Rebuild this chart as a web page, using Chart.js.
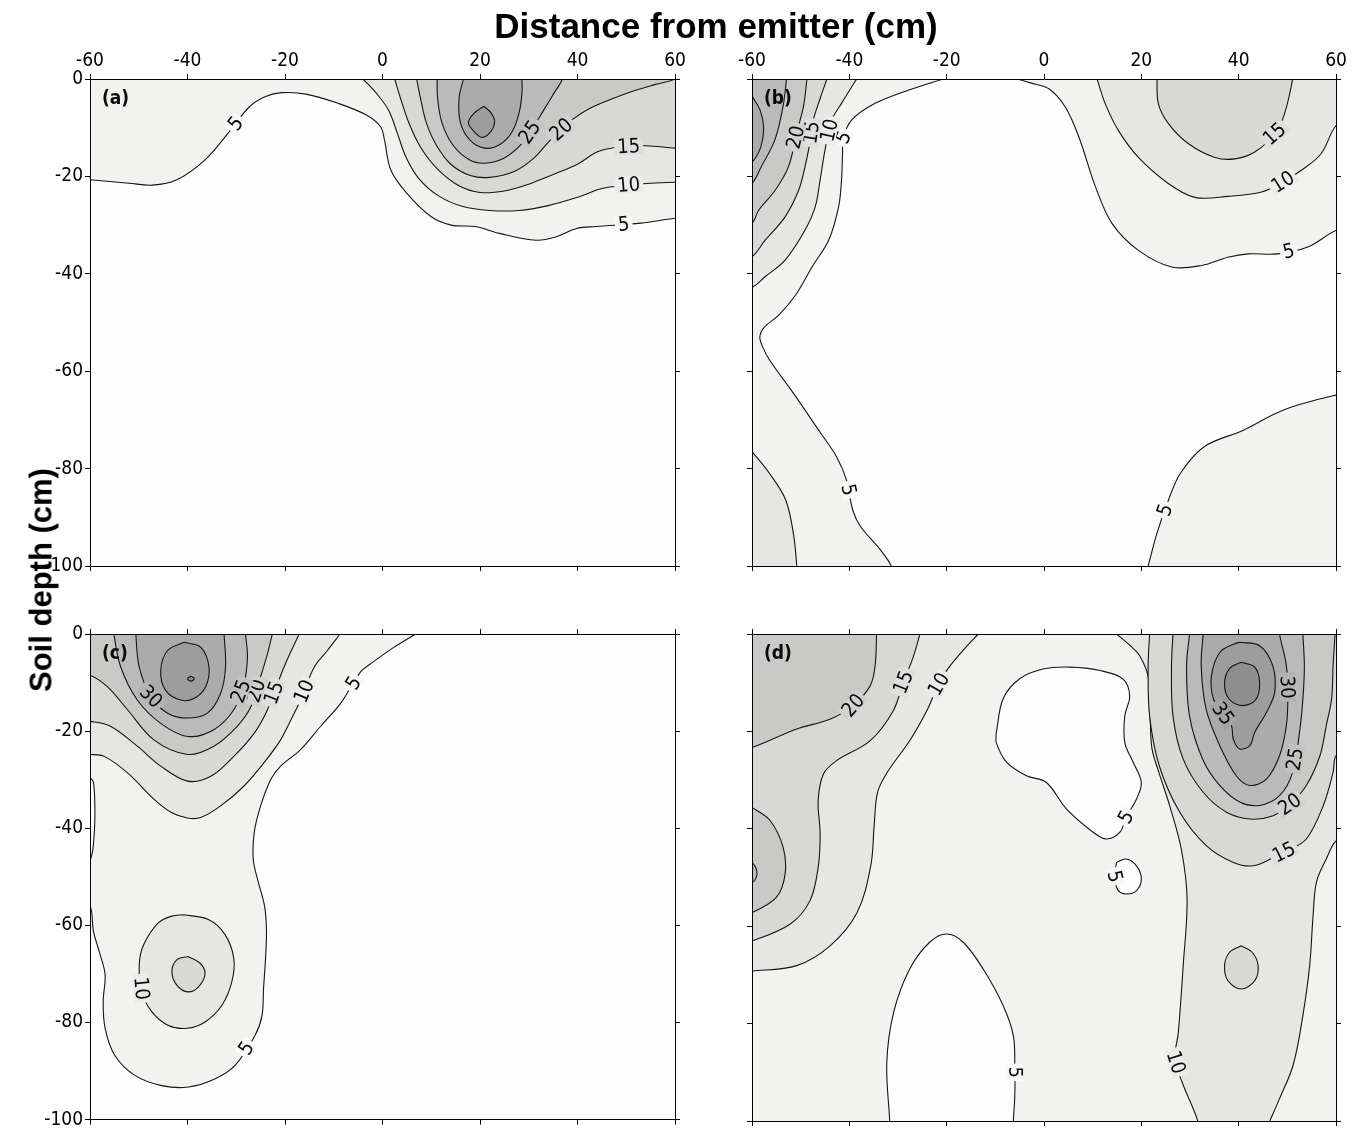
<!DOCTYPE html>
<html lang="en">
<head>
<meta charset="utf-8">
<title>Soil depth contours</title>
<script src="https://cdn.jsdelivr.net/npm/chart.js@4.4.1/dist/chart.umd.min.js"></script>
<style>
  html, body { margin: 0; padding: 0; background: #ffffff; }
  #page { position: relative; width: 1353px; height: 1133px; overflow: hidden; background: #ffffff; }
  #page canvas { position: absolute; }
  #xtitle { position: absolute; left: 716px; top: 8px; transform: translateX(-50%);
            font: bold 35px/1 "Liberation Sans", Arial, sans-serif; white-space: nowrap; color: #000; }
  #ytitle { position: absolute; left: 41px; top: 580px; transform: translate(-50%, -50%) rotate(-90deg);
            font: bold 31px/1 "Liberation Sans", Arial, sans-serif; white-space: nowrap; color: #000; }
</style>
</head>
<body>
<div id="page">
  <canvas id="pa" width="700" height="600" style="left:0;top:0"></canvas>
  <canvas id="pb" width="653" height="600" style="left:700px;top:0"></canvas>
  <canvas id="pc" width="700" height="533" style="left:0;top:600px"></canvas>
  <canvas id="pd" width="653" height="533" style="left:700px;top:600px"></canvas>
  <div id="xtitle">Distance from emitter (cm)</div>
  <div id="ytitle">Soil depth (cm)</div>
</div>
<script>
// Axis ranges and ticks (cm)
const xRange = [-60, 60];
const yRange = [-100, 0];
const tickStep = 20;

// Grey level used above each contour value
const SHADE = { 0: '#fdfdfd', 5: '#f2f2f1', 10: '#e6e6e5', 15: '#d8d8d7', 20: '#c9c9c8',
                25: '#bababa', 30: '#ababab', 35: '#9d9d9d', 40: '#8f8f8f' };

// ---------- Panel (a) contour lines [distance, depth] ----------
const a05 = [[-60,-20.7],[-52,-21.4],[-47.2,-21.8],[-42.2,-20.7],[-36.4,-16.6],[-31.4,-10.8],[-27.3,-5.7],[-24,-3.6],[-20.7,-2.8],[-15.7,-3.1],[-9.1,-5],[-3.3,-7.4],[-0.4,-9.8],[0.4,-12.5],[1.7,-18.7],[5,-23.5],[10,-28.3],[14.1,-30],[19,-30.3],[24,-31.7],[31.5,-33.1],[35.6,-32.4],[39.8,-30.7],[43.9,-30.3],[53,-29.6],[60,-28.6]];
const a05Edge = [[62,-28.6],[62,2],[-62,2],[-62,-20.7]];
const a10 = [[-4,0],[-1.2,-3],[1.3,-6.5],[3,-11],[4.8,-16],[7.5,-20.5],[11.5,-24],[16.5,-26.2],[22,-27],[28,-27],[34,-26],[40,-24.3],[45,-22.5],[50,-21.8],[55,-21.4],[60,-21.2]];
const a10Edge = [[62,-21.2],[62,2],[-4,2]];
const a15 = [[2.5,0],[3.7,-4],[5.4,-9],[7.8,-14],[11.3,-18.5],[15.5,-21.8],[20,-23.3],[25,-23],[30,-21.6],[35,-19.6],[40,-17.5],[44,-15],[48,-14],[54,-13.7],[60,-14.2]];
const a15Edge = [[62,-14.2],[62,2],[2.5,2]];
const a20 = [[7,0],[7.8,-4],[9,-9],[11,-13.5],[14,-17.5],[18,-19.8],[22,-20.2],[27,-19],[31,-16.3],[34,-13],[36.5,-10.5],[39,-8.3],[42,-6.3],[46,-4.5],[51,-2.6],[56,-1.1],[60,0]];
const a20Edge = [[62,2],[7,2]];
const a25 = [[11.2,0],[11.3,-4],[12.2,-9],[14.4,-13.5],[17.8,-16.6],[21,-17.3],[25,-16.2],[28.3,-13.6],[30.5,-10.5],[33,-6.5],[35.3,-2.7],[36.9,0]];
const a25Edge = [[36.9,2],[11.2,2]];
const a30 = [[16.6,0],[15.7,-4],[16,-9],[18,-12.6],[21,-14.2],[24,-13.5],[26.5,-11],[28,-7],[28.6,-3],[28.6,0]];
const a30Edge = [[28.6,2],[16.6,2]];
const a35 = [[20.8,-5.6],[22.3,-7],[23,-8.8],[22.2,-10.8],[20.4,-12],[18.7,-10.7],[17.6,-9],[18.8,-7],[20.8,-5.6]];

// ---------- Panel (b) ----------
const b05L = [[-20.7,0],[-27.9,-2.3],[-34.7,-5],[-39.5,-8.4],[-41.2,-12],[-41.4,-15.3],[-41.6,-20.7],[-42.2,-26.2],[-44.2,-33],[-47.6,-38.5],[-51,-44.3],[-54.5,-48.5],[-57.5,-51],[-58.4,-53],[-57.8,-55],[-56.4,-57.7],[-51.5,-64.5],[-45.9,-72.7],[-42.6,-77.6],[-40.6,-82.3],[-39.3,-88.5],[-37.7,-91.9],[-33.6,-96.7],[-31.4,-100]];
const b05LEdge = [[-31.4,-102],[-62,-102],[-62,2],[-20.7,2]];
const b10BL = [[-60,-76.5],[-56.4,-81],[-53.1,-86.4],[-51.5,-93.3],[-50.8,-100]];
const b10BLEdge = [[-50.8,-102],[-62,-102],[-62,-76.5]];
const b10L = [[-38.5,0],[-41.6,-5],[-43.6,-8.4],[-45,-14.6],[-46,-20.7],[-47,-26.2],[-49.1,-31],[-53.2,-37.2],[-57.3,-40.6],[-60,-42.8]];
const b10LEdge = [[-62,-42.8],[-62,2],[-38.5,2]];
const b15L = [[-44.6,0],[-46,-4],[-47.4,-8.4],[-48,-12.5],[-49.1,-18],[-50.4,-22.8],[-53.2,-28.3],[-57.3,-33.1],[-60,-36.5]];
const b15LEdge = [[-62,-36.5],[-62,2],[-44.6,2]];
const b20L = [[-48.7,0],[-49.4,-5.5],[-50.8,-11],[-52.5,-18],[-55.2,-22.8],[-58.6,-26.9],[-60,-29.6]];
const b20LEdge = [[-62,-29.6],[-62,2],[-48.7,2]];
const b25L = [[-52.9,0],[-53.6,-5.5],[-55.3,-12.5],[-58.1,-18],[-60,-21.4]];
const b25LEdge = [[-62,-21.4],[-62,2],[-52.9,2]];
const b30L = [[-60,-3.5],[-58.3,-6.5],[-57.6,-10],[-58.2,-14],[-60,-17]];
const b30LEdge = [[-62,-17],[-62,-3.5]];
const b05R = [[-5.5,0],[-2.8,-0.8],[1,-2],[4.4,-5.8],[7.2,-12],[10.6,-22.2],[14,-29.7],[19.4,-35.2],[26.2,-38.6],[32.4,-38.3],[37.8,-36.6],[41.9,-35.9],[48,-35.9],[54.2,-34.5],[60,-31.1]];
const b05REdge = [[62,-31.1],[62,2],[-5.5,2]];
const b05BR = [[21.4,-100],[23.2,-93.3],[25.6,-86.4],[28,-81],[32.9,-75.5],[41,-72.1],[49.1,-68],[60,-64.9]];
const b05BREdge = [[62,-64.9],[62,-102],[21.4,-102]];
const b10R = [[10.9,0],[12.6,-5.1],[15.3,-10.6],[19.4,-16.1],[25.6,-21.5],[31,-24.3],[37.8,-24.1],[44.7,-23.2],[49,-21.2],[52.8,-18.8],[56.9,-15.4],[60,-9.6]];
const b10REdge = [[62,-9.6],[62,2],[10.9,2]];
const b15R = [[23.2,0],[23.5,-5.1],[25.6,-9.2],[29.7,-13.3],[35.1,-16.1],[39.2,-16.4],[43.3,-15],[47.4,-11.3],[49.4,-7.2],[51.1,0]];
const b15REdge = [[51.1,2],[23.2,2]];

// ---------- Panel (c) ----------
const c05 = [[6.8,0],[2.4,-2.7],[-2.4,-6.1],[-4.5,-7.8],[-8.6,-14.3],[-12.7,-19],[-16.8,-23.8],[-20.9,-27.2],[-22.9,-29.9],[-25,-35.4],[-26.3,-40.8],[-26.5,-46.5],[-25.5,-51],[-24.2,-56],[-23.8,-61],[-24,-67],[-24.4,-73],[-24.7,-78.5],[-26.1,-82.6],[-30.2,-88.8],[-34.3,-91.6],[-39.8,-93.3],[-45.3,-93],[-50.8,-90.9],[-54.9,-86.8],[-56.9,-81.2],[-57.3,-75.7],[-56.9,-70.2],[-57.9,-66.1],[-59.3,-61.2],[-60,-56]];
const c05Edge = [[-62,-56],[-62,2],[6.8,2]];
const c05s = [[-60,-29.5],[-59.3,-30.5],[-59,-36],[-59.2,-42],[-60,-46.5]];
const c05sEdge = [[-62,-46.5],[-62,-29.5]];
const c10 = [[-8.7,0],[-11.3,-3.4],[-14,-6.8],[-16.8,-13.6],[-18.8,-17.7],[-20.9,-21.8],[-24.3,-26.5],[-28.4,-31.3],[-33.2,-35.4],[-37.3,-37.8],[-40,-37.9],[-43.4,-36.7],[-46.9,-34],[-52.3,-28.6],[-57.1,-25.2],[-60,-24.8]];
const c10Edge = [[-62,-24.8],[-62,2],[-8.7,2]];
const c15 = [[-17.1,0],[-20.2,-6.8],[-23.6,-15.6],[-26.3,-20.4],[-30.5,-25.2],[-35.2,-29.3],[-40,-30.3],[-45.5,-27.2],[-50.3,-23.1],[-55.8,-19],[-60,-18]];
const c15Edge = [[-62,-18],[-62,2],[-17.1,2]];
const c20 = [[-22.6,0],[-23.6,-4.1],[-25,-8.8],[-27,-15],[-29.8,-19],[-34.6,-23.1],[-40,-24.8],[-46.9,-21.8],[-52.3,-15.6],[-56.4,-10.9],[-60,-8.5]];
const c20Edge = [[-62,-8.5],[-62,2],[-22.6,2]];
const c25 = [[-28.1,0],[-27.7,-4.8],[-28.4,-10.2],[-30.5,-15.6],[-34.6,-19.7],[-40,-21.1],[-45.5,-18.4],[-50.3,-13.6],[-53.7,-6.8],[-55.1,0]];
const c25Edge = [[-55.1,2],[-28.1,2]];
const c30 = [[-32.5,0],[-32.2,-6.8],[-33.2,-12.2],[-35.9,-16.3],[-40,-17.3],[-44.1,-16.3],[-47.5,-12.9],[-49.9,-6.8],[-50.6,0]];
const c30Edge = [[-50.6,2],[-32.5,2]];
const c35 = [[-40.7,-1.7],[-37.3,-2.7],[-35.6,-6.8],[-36.3,-10.9],[-38.7,-13.3],[-41.4,-13.6],[-44.5,-11.6],[-45.5,-7.5],[-44.1,-3.4],[-40.7,-1.7]];
const c40 = [[-39.3,-8.7],[-38.6,-9.2],[-39.3,-9.7],[-40,-9.2],[-39.3,-8.7]];
const c10b = [[-40.8,-57.8],[-35.7,-58.8],[-32.3,-61.9],[-30.5,-66.8],[-30.9,-71.6],[-32.9,-76.4],[-36.4,-79.9],[-40.1,-81.2],[-43.9,-80.6],[-47.3,-77.8],[-49.4,-73.7],[-49.9,-68.1],[-49,-64],[-46,-59.5],[-43.2,-58.1],[-40.8,-57.8]];
const c15b = [[-39.9,-66.4],[-37.4,-67.8],[-36.4,-69.9],[-37.7,-72.6],[-39.9,-73.7],[-42.2,-72.3],[-43.2,-69.5],[-42.2,-67.1],[-39.9,-66.4]];

// ---------- Panel (d) ----------
const d05blob = [[-9.8,-20.2],[-8.4,-13.3],[-5,-9.2],[-0.2,-7.2],[5.3,-6.8],[11.5,-7.5],[16.2,-9.2],[17.6,-12.7],[16.6,-16.8],[16.6,-22.3],[18.3,-26.3],[20,-30.5],[19,-33.9],[16.9,-37.6],[15.6,-40.7],[12.8,-42.1],[10.1,-40.7],[4.6,-35.9],[0.5,-30.5],[-3.6,-29.1],[-7.7,-26.3],[-9.8,-22.3],[-9.8,-20.2]];
const d05loop = [[14.9,-46.9],[16.9,-46.2],[19,-47.6],[20,-50.3],[19,-52.7],[16.9,-53.4],[15.2,-52.6],[14.5,-49.8],[14.9,-46.9]];
const d05arch = [[-31.7,-100],[-32.3,-88],[-30.9,-77.7],[-27.6,-68.8],[-23.5,-63.3],[-20,-61.6],[-16.6,-63.3],[-12.5,-68.8],[-8.4,-76.3],[-6.3,-82.5],[-6,-88.7],[-6,-94.8],[-6.3,-100]];
const d05archEdge = [[-6.3,-102],[-31.7,-102]];
const d10L = [[-13.5,0],[-16.4,-3.1],[-19.8,-7.2],[-22,-11],[-23.9,-15.4],[-27.4,-21.6],[-32.2,-28.4],[-34.2,-32.5],[-34.9,-39.4],[-35.6,-47.6],[-38.4,-57.2],[-43.9,-64],[-50.8,-68.1],[-60,-69.2]];
const d10LEdge = [[-62,-69.2],[-62,2],[-13.5,2]];
const d15L = [[-25.5,0],[-26.9,-4.8],[-28.9,-9.9],[-31,-15.8],[-35.7,-21.9],[-42.6,-26],[-45.3,-28.7],[-46.4,-34.2],[-46,-41],[-46.4,-47.9],[-48.1,-54.8],[-52.2,-59.6],[-60,-63]];
const d15LEdge = [[-62,-63],[-62,2],[-25.5,2]];
const d20L = [[-34.4,0],[-34.7,-6.5],[-35.7,-10.6],[-39.2,-14.7],[-44,-17.5],[-50.8,-19.5],[-60,-23.3]];
const d20LEdge = [[-62,-23.3],[-62,2],[-34.4,2]];
const d20Lb = [[-60,-35.6],[-56.3,-38.3],[-53.6,-43.8],[-53.2,-49.3],[-55,-54.1],[-60,-57.2]];
const d20LbEdge = [[-62,-57.2],[-62,-35.6]];
const d25Lt = [[-60,-46.9],[-59.2,-48],[-59,-49.5],[-59.4,-50.5],[-60,-51]];
const d25LtEdge = [[-62,-51],[-62,-46.9]];
const d10R = [[14.9,0],[17.5,-2.2],[19.7,-4.5],[21.5,-9.2],[21.8,-16.8],[22.2,-23.6],[23.6,-28.4],[25.8,-35.2],[28.2,-44.1],[29.4,-54.4],[28.6,-68.1],[27.6,-81.8],[26.9,-87.3],[28.4,-92.1],[31.6,-100]];
const d10REdge = [[31.6,-102],[62,-102],[62,2],[14.9,2]];
const d10Rr = [[46.4,-100],[48.4,-95.4],[51.2,-88.5],[53.2,-78.3],[54.6,-68],[55.3,-57.7],[56,-50.9],[58,-46.2],[60,-42.5]];
const d10RrEdge = [[62,-42.5],[62,-102],[46.4,-102]];
const d15R = [[21.7,0],[21.4,-6.5],[21.7,-16.8],[23.7,-27.1],[27.9,-36.6],[33.4,-43.5],[38.9,-46.9],[43,-47.6],[47,-46],[50,-44.5],[53.9,-42.1],[57.4,-35.2],[59.4,-28.4],[60,-25]];
const d15REdge = [[62,-25],[62,2],[21.7,2]];
const d20R = [[26.5,0],[26.2,-6.5],[26.5,-16.8],[28.6,-25.7],[32.7,-32.5],[37.5,-36.6],[42.3,-38],[47.1,-37.3],[50.5,-35],[53.9,-31.1],[56.7,-25],[58,-18.8],[59.1,-13.3],[59.4,-6.5],[59.8,0]];
const d20REdge = [[59.8,2],[26.5,2]];
const d25R = [[29.9,0],[29.3,-6.5],[29.9,-16.8],[32.6,-25.7],[36.1,-31.1],[40.2,-34.5],[44.3,-35.2],[48.4,-33.2],[51.1,-28.4],[52.5,-20.2],[53.2,-13.3],[53.5,-6.5],[53.2,0]];
const d25REdge = [[53.2,2],[29.9,2]];
const d30R = [[32.7,0],[32.3,-6.5],[33.3,-15.4],[36.1,-22.9],[39.5,-29.1],[42.3,-31.1],[45.7,-29.8],[48.4,-25],[49.8,-18.8],[50.1,-13.3],[49.8,-6.5],[48.4,0]];
const d30REdge = [[48.4,2],[32.7,2]];
const d35 = [[40.2,-1.7],[44.3,-2.4],[47,-6.5],[47.4,-12],[45.7,-16.1],[43.3,-20.2],[42.3,-22.9],[40.2,-23.6],[38.9,-21.6],[38.5,-18.8],[36.5,-16],[34.8,-13.3],[34.4,-8.6],[36.1,-3.8],[38.9,-2.1],[40.2,-1.7]];
const d40 = [[40.5,-5.8],[43.3,-6.8],[44.3,-10],[43.5,-13.5],[40.8,-14.7],[38,-13.3],[37.1,-10],[38.2,-7],[40.5,-5.8]];
const d15b = [[40.5,-64],[42.8,-65.4],[44,-68.1],[43.3,-71.2],[40.5,-72.9],[37.8,-71.2],[37.1,-68.1],[38.1,-65.4],[40.5,-64]];

// Each region: contour value, its line, closing points beyond the frame,
// whether the inside is lower than the value, and where the value is written.
const panelA = { letter: '(a)', base: 0, regions: [
  { level: 5,  line: a05, edge: a05Edge, tags: [[-29.2,-9.9],[49.5,-30]] },
  { level: 10, line: a10, edge: a10Edge, tags: [[50.5,-21.8]] },
  { level: 15, line: a15, edge: a15Edge, tags: [[50.5,-13.8]] },
  { level: 20, line: a20, edge: a20Edge, tags: [[36.6,-10.3]] },
  { level: 25, line: a25, edge: a25Edge, tags: [[30.3,-11]] },
  { level: 30, line: a30, edge: a30Edge },
  { level: 35, line: a35 },
]};
const panelB = { letter: '(b)', base: 0, regions: [
  { level: 5,  line: b05L, edge: b05LEdge, tags: [[-41.2,-12],[-40.8,-84.5]] },
  { level: 10, line: b10BL, edge: b10BLEdge },
  { level: 5,  line: b05R, edge: b05REdge, tags: [[50.4,-35.9]] },
  { level: 5,  line: b05BR, edge: b05BREdge, tags: [[24.8,-88.5]] },
  { level: 10, line: b10L, edge: b10LEdge, tags: [[-44.2,-10.5]] },
  { level: 15, line: b15L, edge: b15LEdge, tags: [[-47.8,-11]] },
  { level: 20, line: b20L, edge: b20LEdge, tags: [[-51,-12]] },
  { level: 25, line: b25L, edge: b25LEdge },
  { level: 30, line: b30L, edge: b30LEdge },
  { level: 10, line: b10R, edge: b10REdge, tags: [[49.1,-21.2]] },
  { level: 15, line: b15R, edge: b15REdge, tags: [[47.4,-11.3]] },
]};
const panelC = { letter: '(c)', base: 0, regions: [
  { level: 5,  line: c05, edge: c05Edge, tags: [[-5.8,-10.2],[-27.8,-85.4]] },
  { level: 5,  line: c05s, edge: c05sEdge, low: true },
  { level: 10, line: c10, edge: c10Edge, tags: [[-16.6,-11.6]] },
  { level: 10, line: c10b, tags: [[-49.7,-73]] },
  { level: 15, line: c15b },
  { level: 15, line: c15, edge: c15Edge, tags: [[-22,-12.2]] },
  { level: 20, line: c20, edge: c20Edge, tags: [[-26,-11.7]] },
  { level: 25, line: c25, edge: c25Edge, tags: [[-29.8,-11.5]] },
  { level: 30, line: c30, edge: c30Edge, tags: [[-47.5,-12.9]] },
  { level: 35, line: c35 },
  { level: 40, line: c40 },
]};
const panelD = { letter: '(d)', base: 5, regions: [
  { level: 5,  line: d05blob, low: true, tags: [[16.9,-37.6]] },
  { level: 5,  line: d05loop, low: true, tags: [[14.5,-49.8]] },
  { level: 5,  line: d05arch, edge: d05archEdge, low: true, tags: [[-6,-90]] },
  { level: 10, line: d10L, edge: d10LEdge, tags: [[-21.5,-10.4]] },
  { level: 15, line: d15L, edge: d15LEdge, tags: [[-28.9,-9.9]] },
  { level: 20, line: d20L, edge: d20LEdge, tags: [[-39.2,-14.7]] },
  { level: 20, line: d20Lb, edge: d20LbEdge },
  { level: 25, line: d25Lt, edge: d25LtEdge },
  { level: 10, line: d10R, edge: d10REdge, tags: [[27,-88]] },
  { level: 10, line: d10Rr, edge: d10RrEdge, low: true },
  { level: 15, line: d15b },
  { level: 15, line: d15R, edge: d15REdge, tags: [[49.5,-45.2]] },
  { level: 20, line: d20R, edge: d20REdge, tags: [[50.7,-35.2]] },
  { level: 25, line: d25R, edge: d25REdge, tags: [[51.6,-25.7]] },
  { level: 30, line: d30R, edge: d30REdge, tags: [[50.1,-10.9]] },
  { level: 35, line: d35, tags: [[36.4,-16.6]] },
  { level: 40, line: d40 },
]};

const FONT = "'DejaVu Sans Condensed', 'DejaVu Sans', sans-serif";

function hexToRgb(h) { const n = parseInt(h.slice(1), 16); return [(n >> 16) & 255, (n >> 8) & 255, n & 255]; }
function mix(a, b) {
  const p = hexToRgb(a), q = hexToRgb(b);
  return 'rgb(' + p.map((v, i) => Math.round((v + q[i]) / 2)).join(',') + ')';
}

// Nearest spot on a contour (in pixels) and the local direction of the line there
function onLine(pts, xs, ys, lx, ly) {
  const P = pts.map(([x, y]) => [xs.getPixelForValue(x), ys.getPixelForValue(y)]);
  const tx = xs.getPixelForValue(lx), ty = ys.getPixelForValue(ly);
  let best = null;
  for (let i = 0; i < P.length - 1; i++) {
    const [x1, y1] = P[i], [x2, y2] = P[i + 1];
    const dx = x2 - x1, dy = y2 - y1, L2 = dx * dx + dy * dy || 1;
    let t = ((tx - x1) * dx + (ty - y1) * dy) / L2;
    t = Math.max(0, Math.min(1, t));
    const px = x1 + t * dx, py = y1 + t * dy;
    const d = (px - tx) ** 2 + (py - ty) ** 2;
    if (!best || d < best.d) best = { d, x: px, y: py, ang: Math.atan2(dy, dx) };
  }
  return best;
}

function decor(panel) {
  return {
    id: 'decor',
    beforeDatasetsDraw(chart) {
      const { ctx, chartArea: a } = chart;
      ctx.save();
      ctx.fillStyle = SHADE[panel.base];
      ctx.fillRect(a.left, a.top, a.right - a.left, a.bottom - a.top);
      ctx.restore();
    },
    afterDatasetsDraw(chart) {
      const { ctx, chartArea: a } = chart;
      const xs = chart.scales.x, ys = chart.scales.y;
      ctx.save();
      ctx.font = '20px ' + FONT;
      ctx.textAlign = 'center';
      ctx.textBaseline = 'middle';
      for (const r of panel.regions) {
        for (const [lx, ly] of (r.tags || [])) {
          const p = onLine(r.line, xs, ys, lx, ly);
          let ang = p.ang;
          while (ang > Math.PI / 2 + 1e-6) ang -= Math.PI;
          while (ang <= -Math.PI / 2 + 1e-6) ang += Math.PI;
          const txt = String(r.level);
          const w = ctx.measureText(txt).width;
          ctx.save();
          ctx.translate(p.x, p.y);
          ctx.rotate(ang);
          ctx.fillStyle = mix(SHADE[r.level], SHADE[r.level - 5]);
          ctx.fillRect(-w / 2 - 3, -8, w + 6, 16);
          ctx.fillStyle = '#0a0a0a';
          ctx.fillText(txt, 0, 1);
          ctx.restore();
        }
      }
      ctx.font = 'bold 19px ' + FONT;
      ctx.textAlign = 'left';
      ctx.textBaseline = 'top';
      ctx.fillStyle = '#0a0a0a';
      ctx.fillText(panel.letter, a.left + 12, a.top + 11);
      ctx.restore();
    }
  };
}

function datasets(panel) {
  const n = panel.regions.length;
  return panel.regions.map((r, i) => ({
    data: r.line.concat(r.edge || []).map(([x, y]) => ({ x, y })),
    fill: 'shape',
    backgroundColor: SHADE[r.low ? r.level - 5 : r.level],
    borderColor: '#151515',
    borderWidth: 1.1,
    tension: 0.35,
    pointRadius: 0,
    pointHoverRadius: 0,
    clip: 0,
    order: n - i
  }));
}

function axis(position, range, showLabels, size) {
  const horizontal = position === 'top' || position === 'bottom';
  return {
    type: 'linear', position, min: range[0], max: range[1],
    ticks: { stepSize: tickStep, display: showLabels, color: '#000', padding: 2,
             maxRotation: 0, autoSkip: false, font: { family: FONT, size: 19 } },
    grid: { drawOnChartArea: false, drawTicks: true, tickLength: 5, tickColor: '#000', tickWidth: 1, z: 1 },
    border: { display: true, color: '#000', width: 1, z: 1 },
    afterFit(s) { if (horizontal) s.height = size; else s.width = size; }
  };
}

function drawPanel(id, panel, box, topLabels, leftLabels) {
  new Chart(document.getElementById(id), {
    type: 'line',
    data: { datasets: datasets(panel) },
    options: {
      responsive: false, animation: false, events: [], devicePixelRatio: 1,
      layout: { padding: 0 },
      plugins: { legend: { display: false }, tooltip: { enabled: false } },
      scales: {
        x:  axis('bottom', xRange, false, box.bottom),
        x2: axis('top', xRange, topLabels, box.top),
        y:  axis('left', yRange, leftLabels, box.left),
        y2: axis('right', yRange, false, box.right)
      }
    },
    plugins: [decor(panel)]
  });
}

drawPanel('pa', panelA, { left: 90, right: 25, top: 79, bottom: 34 }, true, true);
drawPanel('pb', panelB, { left: 52, right: 17, top: 79, bottom: 34 }, true, false);
drawPanel('pc', panelC, { left: 90, right: 25, top: 34, bottom: 12 }, false, true);
drawPanel('pd', panelD, { left: 52, right: 17, top: 34, bottom: 12 }, false, false);
</script>
</body>
</html>
